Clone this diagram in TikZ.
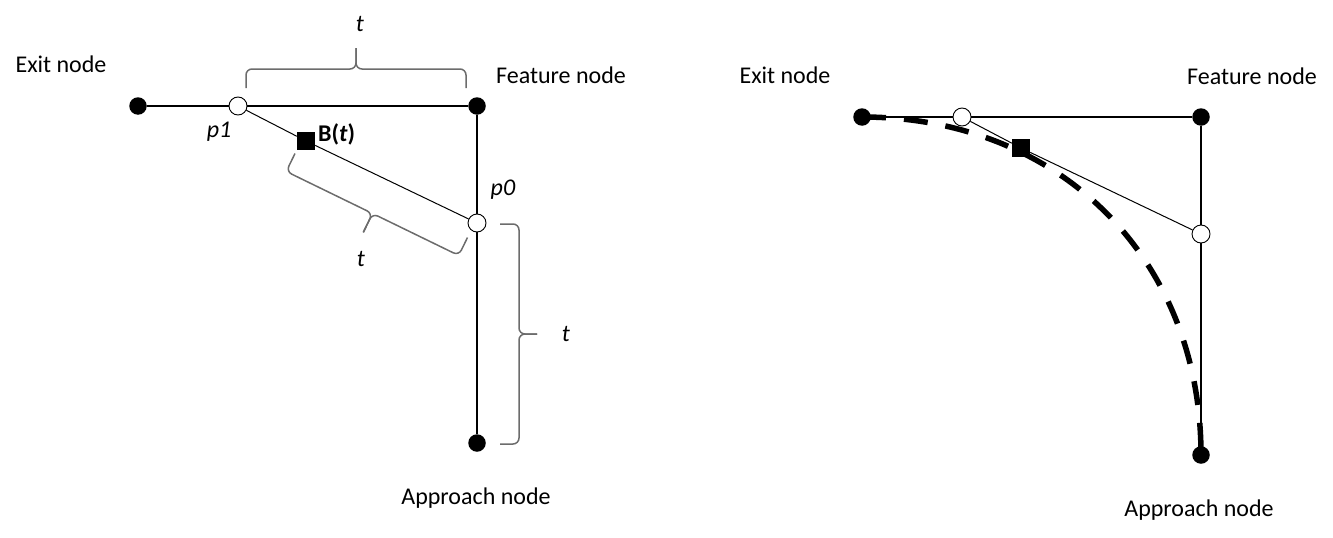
\documentclass[tikz,border=0pt]{standalone}
\usepackage{fontspec}
\setmainfont{Carlito}
\usetikzlibrary{calc}
\pgfdeclarelayer{background}
\pgfsetlayers{background,main}
\tikzset{
  fdot/.style={circle,fill=black,inner sep=0pt,minimum size=17.5pt},
  odot/.style={circle,draw=black,fill=white,line width=0.9pt,inner sep=0pt,minimum size=18pt},
  sqnode/.style={rectangle,fill=black,inner sep=0pt,minimum size=18pt},
  edge/.style={line width=1.4pt,black},
  thinedge/.style={line width=1pt,black},
  bracestyle/.style={line width=1.5pt,draw=gray!85!black,rounded corners=6pt},
  lbl/.style={inner sep=0pt,font=\fontsize{24}{28}\selectfont},
  curvestyle/.style={line width=5.5pt,black,dash pattern=on 24pt off 18pt},
}
\newcommand{\mybrace}[4]{%
  % #1 start, #2 end, #3 bar height, #4 tip height beyond bar
  \coordinate (bA) at #1;
  \coordinate (bB) at #2;
  \coordinate (bM) at ($(bA)!0.5!(bB)$);
  \coordinate (bA1) at ($(bA)!#3!90:(bB)$);
  \coordinate (bB1) at ($(bB)!#3!-90:(bA)$);
  \coordinate (bM1) at ($(bM)!#3!90:(bB)$);
  \coordinate (bT) at ($(bM)!#3+#4!90:(bB)$);
  \draw[bracestyle] (bA) -- (bA1) -- (bM1) -- (bT);
  \draw[bracestyle] (bT) -- (bM1) -- (bB1) -- (bB);
}
\begin{document}
\begin{tikzpicture}[x=1pt,y=-1pt]
\useasboundingbox (0,0) rectangle (1333,538);

% ---------- left diagram ----------
\node[fdot] (E1) at (138,106) {};
\node[odot] (P11) at (238,106) {};
\node[fdot] (F1) at (477,106) {};
\node[odot] (P01) at (477,223) {};
\node[fdot] (A1) at (477,443) {};
\node[sqnode] (B1) at (306,141) {};

\draw[edge] (E1) -- (P11);
\draw[edge] (P11) -- (F1);
\draw[edge] (F1) -- (P01);
\draw[edge] (P01) -- (A1);
\draw[thinedge] (P11) -- (B1);
\draw[thinedge] (B1) -- (P01);

\mybrace{(246,88)}{(466,88)}{19pt}{21pt}
\mybrace{(500,224)}{(500,444)}{19pt}{18pt}
\mybrace{(467.5,237.5)}{(295,153.5)}{20pt}{21pt}

\node[lbl] (lExit) at (61,64) {Exit node};
\node[lbl] (lFeat) at (561,75) {Feature node};
\node[lbl] (lAppr) at (476,498) {Approach node};
\node[lbl] (lp1) at (219,132) {\textit{p1}};
\node[lbl] (lp0) at (503,190) {\textit{p0}};
\node[lbl,anchor=west] (lB) at (318,134) {\textbf{B(\textit{t})}};
\node[lbl] (lt1) at (360,24) {\textit{t}};
\node[lbl] (lt2) at (361,259) {\textit{t}};
\node[lbl] (lt3) at (566,334) {\textit{t}};

% ---------- right diagram ----------
\node[fdot] (E2) at (862,117) {};
\node[odot] (P12) at (962,117) {};
\node[fdot] (F2) at (1201,117) {};
\node[odot] (P02) at (1201,234) {};
\node[fdot] (A2) at (1201,455) {};
\node[sqnode] (B2) at (1021,148) {};

\draw[edge] (E2) -- (P12);
\draw[edge] (P12) -- (F2);
\draw[edge] (F2) -- (P02);
\draw[edge] (P02) -- (A2);
\draw[thinedge] (P12) -- (B2);
\draw[thinedge] (B2) -- (P02);

\begin{pgfonlayer}{background}
\draw[curvestyle] (E2.center) .. controls ($(E2.center)+(197,0)$) and ($(A2.center)+(0,-197)$) .. (A2.center);
\end{pgfonlayer}

\node[lbl] (rExit) at (785,75) {Exit node};
\node[lbl] (rFeat) at (1252,76) {Feature node};
\node[lbl] (rAppr) at (1199,510) {Approach node};
\end{tikzpicture}
\end{document}
